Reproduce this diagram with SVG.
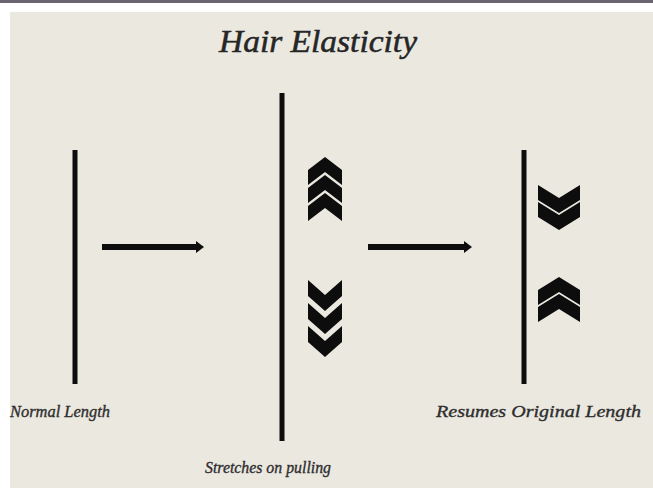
<svg xmlns="http://www.w3.org/2000/svg" width="653" height="488" viewBox="0 0 653 488">
  <defs>
    <style>
      .hair { stroke: #0d0d0d; stroke-width: 5; stroke-linecap: butt; }
      .chev { fill: #0d0d0d; }
      .conn { stroke: #0d0d0d; stroke-width: 6; fill: none; }
      .lbl { font-family: "Liberation Serif", "DejaVu Serif", serif; font-style: italic; fill: #2e2e2e; font-size: 17px; stroke: #2e2e2e; stroke-width: 0.35; }
      .title { font-family: "Liberation Serif", "DejaVu Serif", serif; font-style: italic; fill: #262626; font-size: 31px; stroke: #262626; stroke-width: 0.5; }
    </style>
    <marker id="ah" markerUnits="userSpaceOnUse" markerWidth="10" markerHeight="12" refX="2" refY="6" orient="auto">
      <path d="M0,0 L8,6 L0,12 z" fill="#0d0d0d"/>
    </marker>
    <path id="up" d="M-17,13 L0,0 L17,13 L17,28 L0,15 L-17,28 Z"/>
    <path id="down" d="M-17,0 L0,15 L17,0 L17,16 L0,31 L-17,16 Z"/>
    <path id="upW" d="M-21,13 L0,0 L21,13 L21,28 L0,15 L-21,28 Z"/>
    <path id="downW" d="M-21,0 L0,13 L21,0 L21,15 L0,28 L-21,15 Z"/>
  </defs>

  <rect x="0" y="0" width="653" height="488" fill="#ffffff"/>
  <rect x="10" y="12" width="643" height="476" fill="#ebe8e0"/>
  <rect x="0" y="0" width="653" height="3" fill="#6a6370"/>

  <text id="title" class="title" x="318" y="52" text-anchor="middle" textLength="198" lengthAdjust="spacingAndGlyphs">Hair Elasticity</text>

  <g id="normal">
    <line class="hair" x1="75" y1="150" x2="75" y2="384"/>
    <text class="lbl" x="10" y="417" textLength="100" lengthAdjust="spacingAndGlyphs">Normal Length</text>
  </g>

  <g id="stretched">
    <line class="hair" x1="282" y1="93" x2="282" y2="441"/>
    <g class="chev">
      <use href="#up" x="325" y="157"/>
      <use href="#up" x="325" y="175"/>
      <use href="#up" x="325" y="193"/>
      <use href="#down" x="325" y="280"/>
      <use href="#down" x="325" y="303"/>
      <use href="#down" x="325" y="326"/>
    </g>
    <text class="lbl" x="205" y="473" textLength="126" lengthAdjust="spacingAndGlyphs">Stretches on pulling</text>
  </g>

  <g id="resumed">
    <line class="hair" x1="524" y1="150" x2="524" y2="384"/>
    <g class="chev">
      <use href="#downW" x="559" y="185"/>
      <use href="#downW" x="559" y="202"/>
      <use href="#upW" x="559" y="277"/>
      <use href="#upW" x="559" y="294"/>
    </g>
    <text class="lbl" x="436" y="417" textLength="205" lengthAdjust="spacingAndGlyphs">Resumes Original Length</text>
  </g>

  <g id="connectors">
    <line class="conn" x1="102" y1="247" x2="198" y2="247" marker-end="url(#ah)"/>
    <line class="conn" x1="368" y1="247" x2="466" y2="247" marker-end="url(#ah)"/>
  </g>
</svg>
